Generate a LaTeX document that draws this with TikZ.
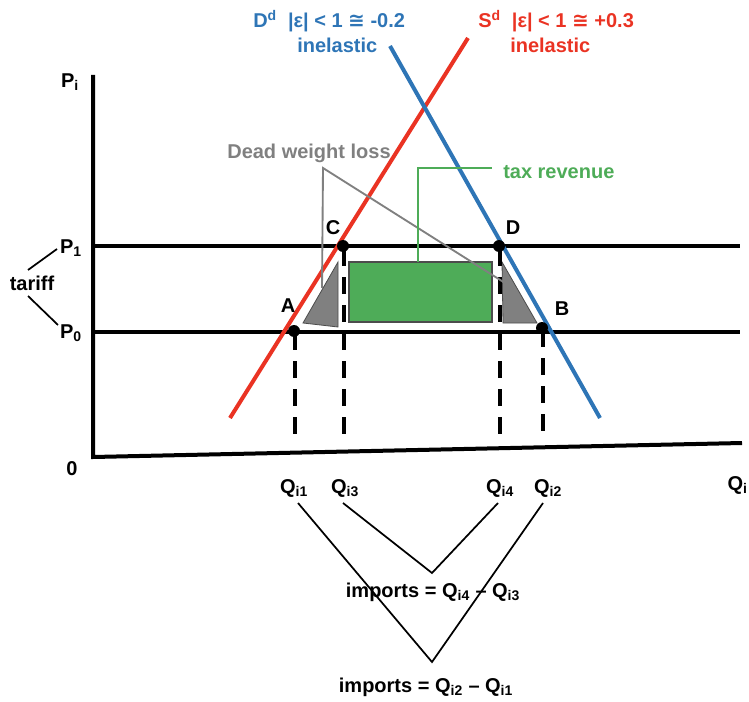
\documentclass[tikz,border=0pt]{standalone}
\usepackage{fontspec}
\setmainfont{Liberation Sans}
\newfontfamily\symfont{DejaVu Sans}
\usetikzlibrary{positioning}
\definecolor{suppred}{RGB}{234,51,35}
\definecolor{demblue}{RGB}{46,117,182}
\definecolor{revgreen}{RGB}{78,172,88}
\definecolor{dwlgray}{RGB}{128,128,128}
\tikzset{
  lbl/.style={font=\bfseries\fontsize{15}{18}\selectfont, inner sep=0pt},
  axisline/.style={line width=3pt},
  priceline/.style={line width=2.5pt},
  dropline/.style={line width=3pt, dash pattern=on 12.5pt off 8.5pt},
  eqpt/.style={circle, fill=black, inner sep=0pt, minimum size=9pt},
  thinline/.style={line width=1.3pt}
}
\begin{document}
\begin{tikzpicture}[x=0.75pt, y=-0.75pt]
  \useasboundingbox (0,0) rectangle (749,702);
  % axes
  \coordinate (ytop) at (93,75);
  \coordinate (O) at (93,457);
  \coordinate (xend) at (742,443);
  \draw[axisline] (ytop) -- (O) -- (xend);
  \node[lbl] (Pi) at (70,82) {P\textsubscript{i}};
  \node[lbl] (zero) at (72,469) {0};
  \node[lbl, anchor=east] (Qi) at (748,485) {Q\textsubscript{i}};
  % price lines
  \coordinate (p1l) at (93,246);
  \coordinate (p1r) at (740,246);
  \coordinate (p0l) at (93,332);
  \coordinate (p0r) at (740,332);
  \draw[priceline] (p1l) -- (p1r);
  \draw[priceline] (p0l) -- (p0r);
  \node[lbl] (P1) at (71,248) {P\textsubscript{1}};
  \node[lbl] (P0) at (71,333) {P\textsubscript{0}};
  % tariff bracket
  \node[lbl] (tariff) at (32,283) {tariff};
  \coordinate (t1a) at (28,270);
  \coordinate (t1b) at (57,249);
  \coordinate (t0a) at (28,296);
  \coordinate (t0b) at (58,325);
  \draw[thinline] (t1a) -- (t1b);
  \draw[thinline] (t0a) -- (t0b);
  % dead weight loss and revenue areas
  \filldraw[fill=dwlgray, draw=black!70, line width=0.6pt]
    (303,323) -- (338,262) -- (338,327) -- cycle;
  \filldraw[fill=dwlgray, draw=black!70, line width=0.6pt]
    (502,262) -- (537,323) -- (503,323) -- cycle;
  \filldraw[fill=revgreen, draw=black!70, line width=0.8pt]
    (349,262) rectangle (492,322);
  % supply and demand
  \coordinate (sbot) at (230,418);
  \coordinate (stop) at (468,38);
  \coordinate (dtop) at (390,46);
  \coordinate (dbot) at (600,418);
  \draw[suppred, line width=3pt] (sbot) -- (stop);
  \draw[demblue, line width=3pt] (dtop) -- (dbot);
  \node[lbl, anchor=west, demblue] (Dlbl) at (253,21)
    {D\textsuperscript{d}\ \ |ε| < 1 {\symfont ≅} -0.2};
  \node[lbl, anchor=west, demblue] (Dinel) at (297,45) {inelastic};
  \node[lbl, anchor=west, suppred] (Slbl) at (478,21)
    {S\textsuperscript{d}\ \ |ε| < 1 {\symfont ≅} +0.3};
  \node[lbl, anchor=west, suppred] (Sinel) at (510,45) {inelastic};
  % drop lines
  \coordinate (Ab) at (295,437);
  \coordinate (Cb) at (344,437);
  \coordinate (Db) at (500,437);
  \coordinate (Bb) at (543,437);
  \coordinate (Ad) at (295,333);
  \coordinate (Cd) at (344,249);
  \coordinate (Dd) at (500,249);
  \coordinate (Bd) at (543,330);
  \draw[dropline] (Ad) -- (Ab);
  \draw[dropline] (Cd) -- (Cb);
  \draw[dropline] (Dd) -- (Db);
  \draw[dropline] (Bd) -- (Bb);
  % equilibrium points
  \node[eqpt] (A) at (294,331) {};
  \node[eqpt] (C) at (343,246) {};
  \node[eqpt] (D) at (499,246) {};
  \node[eqpt] (B) at (542,328) {};
  \node[lbl] (Albl) at (288,306) {A};
  \node[lbl] (Clbl) at (333,228) {C};
  \node[lbl] (Dlbl2) at (513,228) {D};
  \node[lbl] (Blbl) at (562,309) {B};
  % callouts
  \node[lbl, dwlgray] (dwl) at (309,153) {Dead weight loss};
  \coordinate (dwlapex) at (323,168);
  \coordinate (dwlL) at (322,288);
  \coordinate (dwlR) at (505,283);
  \draw[dwlgray, line width=1.4pt] (dwlL) -- (dwlapex) -- (dwlR);
  \node[lbl, anchor=west, revgreen] (tax) at (503,172) {tax revenue};
  \coordinate (taxbot) at (418,262);
  \coordinate (taxtop) at (418,168);
  \coordinate (taxend) at (492,168);
  \draw[revgreen, line width=1.4pt] (taxbot) -- (taxtop) -- (taxend);
  % quantities
  \node[lbl] (Q1) at (294,488) {Q\textsubscript{i1}};
  \node[lbl] (Q3) at (345,488) {Q\textsubscript{i3}};
  \node[lbl] (Q4) at (500,488) {Q\textsubscript{i4}};
  \node[lbl] (Q2) at (548,488) {Q\textsubscript{i2}};
  \coordinate (q1s) at (298,503);
  \coordinate (q3s) at (343,503);
  \coordinate (q4s) at (498,503);
  \coordinate (q2s) at (543,503);
  \coordinate (innerV) at (432,573);
  \coordinate (outerV) at (432,662);
  \draw[thinline] (q3s) -- (innerV) -- (q4s);
  \draw[thinline] (q1s) -- (outerV) -- (q2s);
  \node[lbl] (imp1) at (433,592) {imports = Q\textsubscript{i4} – Q\textsubscript{i3}};
  \node[lbl] (imp2) at (426,687) {imports = Q\textsubscript{i2} – Q\textsubscript{i1}};
\end{tikzpicture}
\end{document}
